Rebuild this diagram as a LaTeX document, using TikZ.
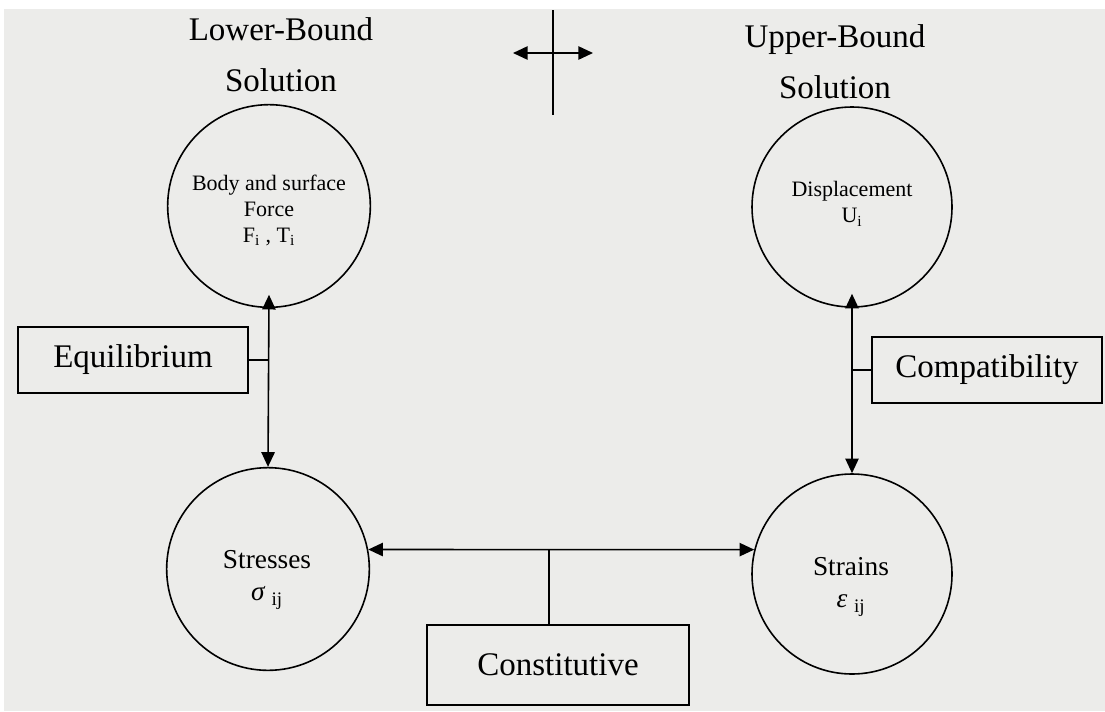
\documentclass[tikz,border=0pt]{standalone}
\usepackage{fontspec}
\setmainfont{Liberation Serif}
\usetikzlibrary{arrows.meta}
\definecolor{paper}{RGB}{236,236,234}
\tikzset{
  circ/.style={draw, circle, line width=1.2pt, minimum size=152pt, inner sep=0pt},
  lbox/.style={draw, line width=1.2pt, minimum width=172.5pt, minimum height=49.5pt,
    font=\fontsize{24.75}{30}\selectfont},
  link/.style={line width=1.2pt},
  dbl/.style={link, {Triangle[length=11pt,width=10pt]}-{Triangle[length=11pt,width=10pt]}},
  small/.style={align=center, font=\fontsize{16.5}{19.5}\selectfont},
  medium/.style={align=center, font=\fontsize{20.5}{24}\selectfont},
  title/.style={align=center, font=\fontsize{24.75}{38}\selectfont},
}
\begin{document}
\begin{tikzpicture}[x=0.75pt,y=-0.75pt]
	\fill[white] (0,0) rectangle (1105,711);
	\fill[paper] (4,9) rectangle (1105,711);
	\useasboundingbox (0,0) rectangle (1105,711);
	% titles
	\node[title] (lower) at (281,55) {Lower-Bound\\Solution};
	\node[title] (upper) at (835,62) {Upper-Bound\\Solution};
	% circles
	\node[circ] (force) at (269,206) {};
	\node[circ, minimum size=150pt] (disp) at (852,207) {};
	\node[circ] (stress) at (268,569) {};
	\node[circ, minimum size=150pt] (strain) at (852,574) {};
	\node[small] (forcetxt) at (269,210) {Body and surface\\Force\\F\textsubscript{i} , T\textsubscript{i}};
	\node[small] (disptxt) at (852,204) {Displacement\\U\textsubscript{i}};
	\node[medium] (stresstxt) at (267,580) {Stresses\\{\itshape σ} \textsubscript{ij}};
	\node[medium] (straintxt) at (851,587) {Strains\\ {\itshape ε} \textsubscript{ij}};
	% boxes
	\node[lbox] (equil) at (133,360) {Equilibrium};
	\node[lbox] (compat) at (987,370) {Compatibility};
	\node[lbox, minimum width=196.5pt, minimum height=60pt] (const) at (558,665) {Constitutive};
	% connectors
	\draw[dbl] ([yshift=10pt]force.south) -- (stress.north);
	\draw[dbl] ([yshift=10.5pt]disp.south) -- (strain.north);
	\draw[link] (equil.east) -- (equil.east -| force.south);
	\draw[link] (compat.west) -- (compat.west -| disp.south);
	\coordinate (hmid) at (549,550);
	\draw[dbl] (stress.11) -- (strain.166);
	\draw[link] (hmid) -- (hmid |- const.north);
	% cross at the top
	\path (553,10) coordinate (vtop) (553,115) coordinate (vbot)
		(513,53) coordinate (hl) (593,53) coordinate (hr);
	\draw[link] (vtop) -- (vbot);
	\draw[dbl] (hl) -- (hr);
\end{tikzpicture}
\end{document}
